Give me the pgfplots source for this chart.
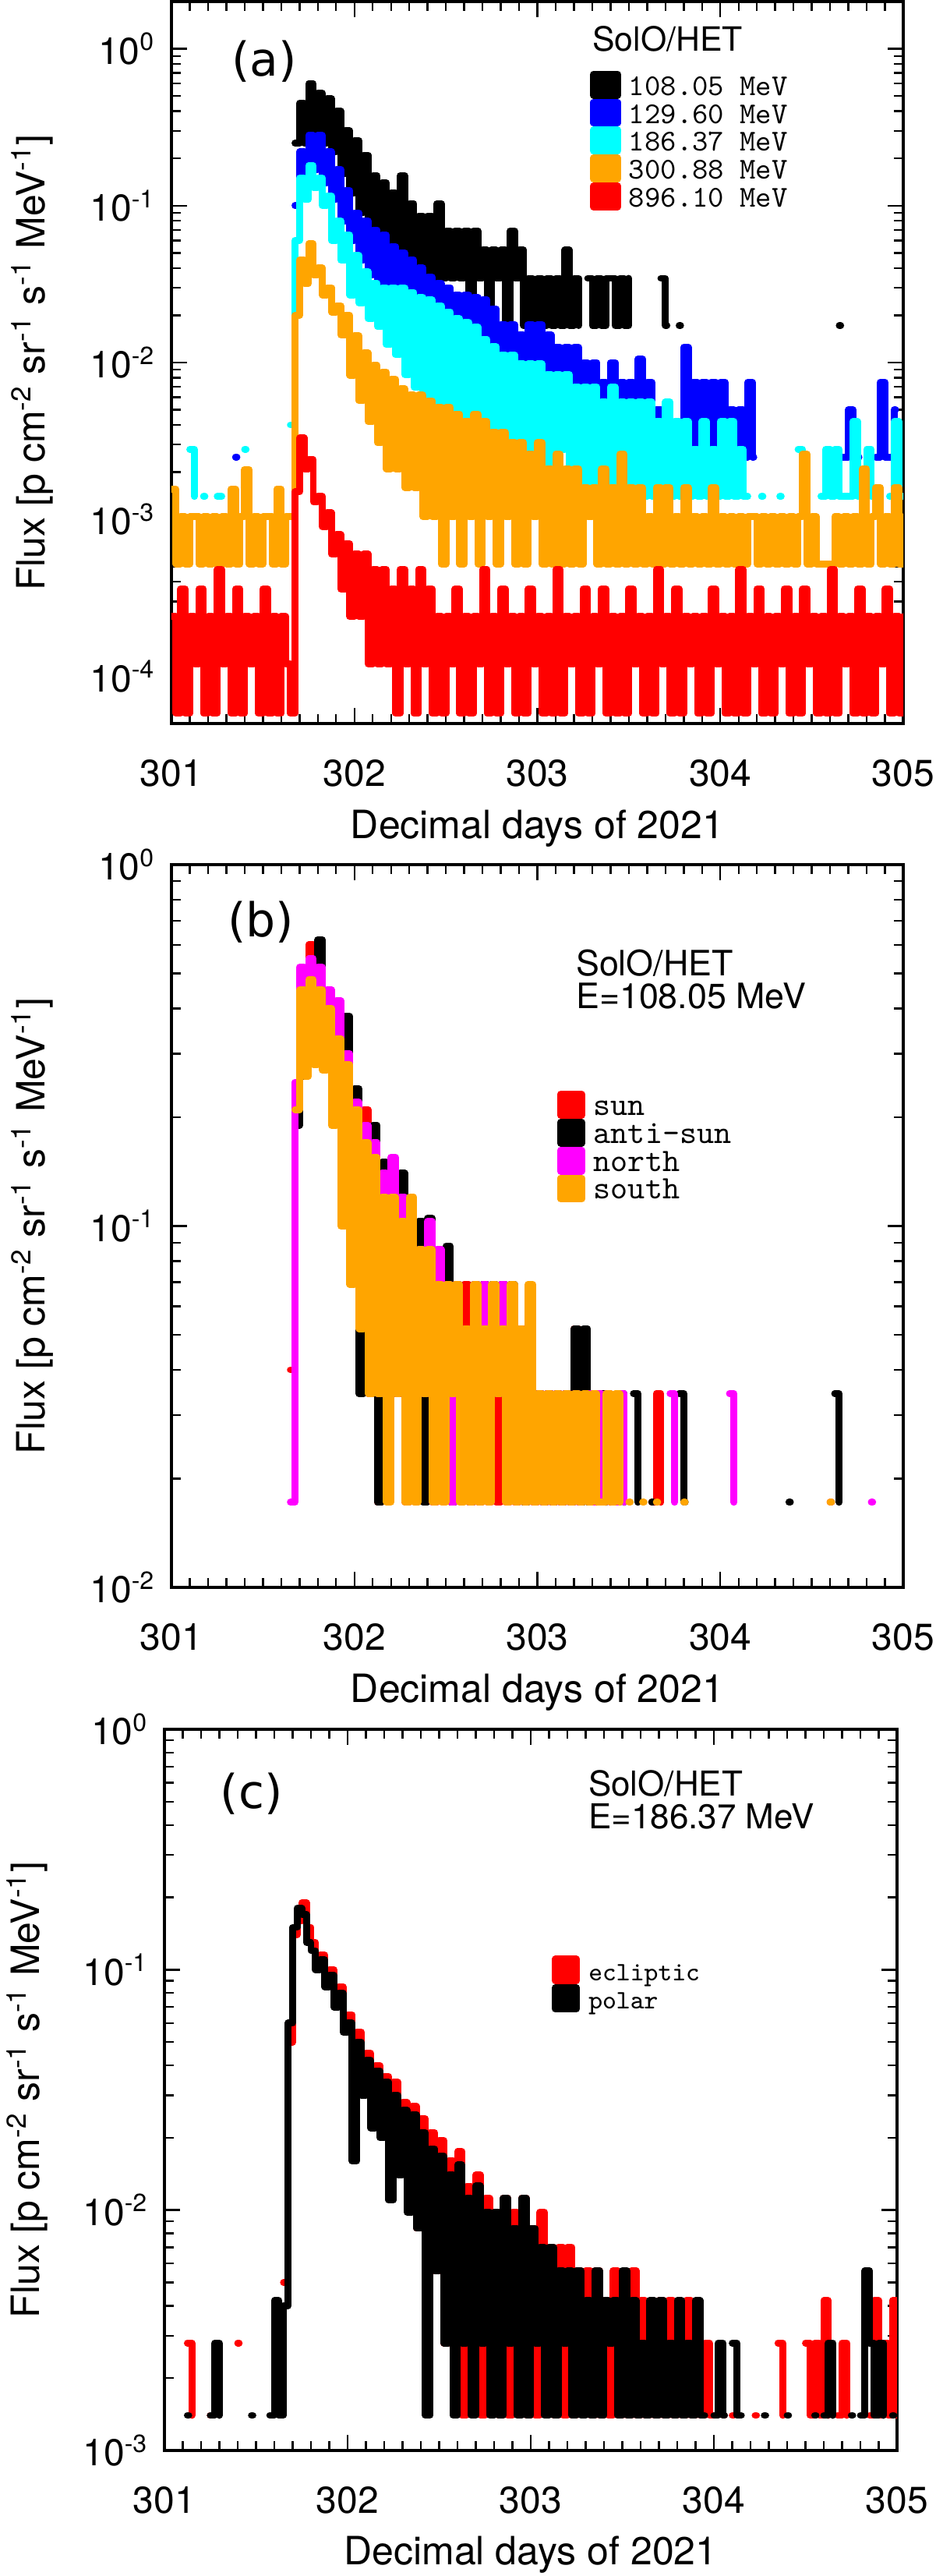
\documentclass[border=0pt]{standalone}
\usepackage{fontspec}
\setmainfont{TeX Gyre Heros}
\newfontfamily\panelfont{DejaVu Sans}
\usepackage{pgfplots}
\usepackage{pgfplotstable}
\pgfplotsset{compat=1.18}

\definecolor{idlblue}{RGB}{0,0,255}
\definecolor{idlcyan}{RGB}{0,255,255}
\definecolor{idlorange}{RGB}{255,165,0}
\definecolor{idlred}{RGB}{255,0,0}
\definecolor{idlmag}{RGB}{255,0,255}

% panel (a): x, 108.05, 129.60, 186.37, 300.88, 896.10 MeV
\pgfplotstableread{
x k b c o r
301.000 nan nan nan 1.56e-3 2.4e-4
301.025 nan nan nan 5.2e-4 5.8e-5
301.050 nan nan nan 1.04e-3 3.6e-4
301.075 nan nan nan 5.2e-4 5.8e-5
301.100 nan nan 2.8e-3 1.04e-3 2.4e-4
301.125 nan nan 1.4e-3 1.04e-3 1.2e-4
301.150 nan nan nan 5.2e-4 3.6e-4
301.175 nan nan 1.4e-3 1.04e-3 5.8e-5
301.183 nan nan 1.4e-3 1.04e-3 5.8e-5
301.200 nan nan nan 5.2e-4 2.4e-4
301.225 nan nan nan 1.04e-3 5.8e-5
301.250 nan nan 1.4e-3 5.2e-4 4.8e-4
301.275 nan nan 1.4e-3 1.04e-3 1.2e-4
301.300 nan nan nan 5.2e-4 2.4e-4
301.325 nan nan nan 1.56e-3 5.8e-5
301.350 nan 2.5e-3 nan 5.2e-4 3.6e-4
301.358 nan 2.5e-3 nan 5.2e-4 3.6e-4
301.375 nan nan nan 1.04e-3 5.8e-5
301.400 nan nan 2.8e-3 2.08e-3 2.4e-4
301.408 nan nan 2.8e-3 2.08e-3 2.4e-4
301.425 nan nan nan 5.2e-4 1.2e-4
301.450 nan nan nan 1.04e-3 2.4e-4
301.475 nan nan nan 5.2e-4 5.8e-5
301.500 nan nan nan 1.04e-3 3.6e-4
301.525 nan nan nan 1.04e-3 5.8e-5
301.550 nan nan nan 5.2e-4 2.4e-4
301.575 nan nan nan 1.56e-3 5.8e-5
301.600 nan nan nan 5.2e-4 2.4e-4
301.625 nan nan nan 1.04e-3 1.2e-4
301.650 nan nan 4e-3 1.04e-3 5.8e-5
301.675 0.25 0.10 0.06 0.02 1.5e-3
301.700 0.45 0.22 0.15 0.045 3.3e-3
301.725 0.25 0.15 0.11 0.032 2.1e-3
301.750 0.60 0.28 0.18 0.057 2.4e-3
301.775 0.28 0.17 0.13 0.036 1.3e-3
301.800 0.52 0.28 0.15 0.040 1.4e-3
301.825 0.25 0.14 0.10 0.027 9e-4
301.850 0.48 0.22 0.115 0.030 1.1e-3
301.875 0.22 0.11 0.06 0.021 6e-4
301.900 0.40 0.17 0.08 0.023 8e-4
301.925 0.16 0.08 0.045 0.015 3.6e-4
301.950 0.30 0.125 0.065 0.020 7e-4
301.975 0.12 0.06 0.027 0.0083 2.4e-4
302.000 0.26 0.09 0.048 0.0148 6e-4
302.025 0.09 0.045 0.024 0.0057 2.4e-4
302.050 0.21 0.08 0.038 0.0115 6e-4
302.075 0.075 0.036 0.019 0.0042 1.2e-4
302.100 0.155 0.07 0.032 0.0096 4.8e-4
302.125 0.065 0.03 0.017 0.0031 1.2e-4
302.150 0.14 0.065 0.030 0.0087 4.8e-4
302.175 0.055 0.028 0.013 0.0021 1.2e-4
302.200 0.12 0.055 0.030 0.0078 3.6e-4
302.225 0.05 0.028 0.0112 0.0021 5.8e-5
302.250 0.155 0.05 0.030 0.0068 4.8e-4
302.275 0.045 0.028 0.0084 0.0016 1.2e-4
302.300 0.103 0.045 0.028 0.0062 3.6e-4
302.325 0.04 0.026 0.007 0.0016 5.8e-5
302.350 0.086 0.04 0.026 0.0062 4.8e-4
302.375 0.0344 0.024 0.0056 0.00104 1.2e-4
302.400 0.086 0.035 0.025 0.0057 3.6e-4
302.425 0.0344 0.022 0.0056 0.00104 5.8e-5
302.450 0.103 0.032 0.023 0.0052 2.4e-4
302.475 0.0344 0.02 0.0042 5.2e-4 5.8e-5
302.500 0.069 0.03 0.021 0.0052 2.4e-4
302.525 0.0344 0.018 0.0042 1.04e-3 1.2e-4
302.550 0.069 0.027 0.019 0.0047 3.6e-4
302.575 0.0344 0.017 0.0042 5.2e-4 5.8e-5
302.600 0.069 0.027 0.018 0.0042 2.4e-4
302.625 0.0172 0.015 0.0028 1.04e-3 5.8e-5
302.650 0.069 0.026 0.0168 0.0047 2.4e-4
302.675 0.0344 0.0125 0.0028 5.2e-4 1.2e-4
302.700 0.052 0.025 0.014 0.0042 4.8e-4
302.725 0.0172 0.0125 0.0014 1.04e-3 5.8e-5
302.750 0.052 0.022 0.0126 0.0036 2.4e-4
302.775 0.0344 0.01 0.0028 5.2e-4 5.8e-5
302.800 0.052 0.0175 0.0112 0.0036 3.6e-4
302.825 0.0172 0.01 0.0014 1.04e-3 1.2e-4
302.850 0.069 0.0175 0.0112 0.0031 2.4e-4
302.875 0.0344 0.0075 0.0028 5.2e-4 5.8e-5
302.900 0.052 0.015 0.0098 0.0031 2.4e-4
302.925 0.0172 0.005 0.0014 5.2e-4 5.8e-5
302.950 0.0344 0.0175 0.0098 0.0026 3.6e-4
302.975 0.0172 0.0075 0.0014 1.04e-3 1.2e-4
303.000 0.0344 0.0175 0.0098 0.0031 2.4e-4
303.025 0.0172 0.005 0.0014 5.2e-4 5.8e-5
303.050 0.0344 0.015 0.0084 0.0021 2.4e-4
303.075 0.0172 0.0075 0.0014 5.2e-4 5.8e-5
303.100 0.0344 0.0125 0.0084 0.0026 4.8e-4
303.125 0.0172 0.005 0.0028 5.2e-4 5.8e-5
303.150 0.052 0.0125 0.0084 0.0021 2.4e-4
303.175 0.0172 0.005 0.0014 5.2e-4 1.2e-4
303.200 0.0344 0.0125 0.0070 0.0021 2.4e-4
303.225 0.0172 0.005 0.0014 5.2e-4 5.8e-5
303.250 nan 0.01 0.0070 0.0016 3.6e-4
303.275 0.0344 0.0025 0.0014 1.04e-3 5.8e-5
303.300 0.0172 0.01 0.0070 0.0016 2.4e-4
303.325 0.0344 0.0025 0.0014 5.2e-4 1.2e-4
303.350 0.0172 0.0075 0.0056 0.0021 3.6e-4
303.375 0.0344 0.005 0.0014 5.2e-4 5.8e-5
303.400 0.0344 0.01 0.0070 0.0016 2.4e-4
303.425 0.0172 0.0025 0.0014 5.2e-4 5.8e-5
303.450 0.0344 0.0075 0.0056 0.0026 2.4e-4
303.475 0.0172 0.0025 0.0014 5.2e-4 5.8e-5
303.500 0.0344 0.0075 0.0056 0.0016 3.6e-4
303.525 nan 0.005 0.0014 5.2e-4 1.2e-4
303.550 nan 0.0105 0.0056 0.0016 2.4e-4
303.575 nan 0.0025 0.0014 5.2e-4 5.8e-5
303.600 nan 0.0075 0.0056 1.04e-3 2.4e-4
303.625 nan 0.0025 0.0014 5.2e-4 5.8e-5
303.650 nan 0.005 0.0042 0.0016 4.8e-4
303.675 0.0344 0.0025 0.0014 5.2e-4 1.2e-4
303.700 0.0172 nan 0.0056 0.0016 2.4e-4
303.708 0.0172 nan 0.0056 0.0016 2.4e-4
303.725 nan nan 0.0014 5.2e-4 5.8e-5
303.750 nan nan 0.0042 1.04e-3 3.6e-4
303.775 0.0172 0.0025 0.0014 5.2e-4 5.8e-5
303.783 0.0172 0.0025 0.0014 5.2e-4 5.8e-5
303.800 nan 0.0125 0.0042 0.0016 2.4e-4
303.825 nan 0.0025 0.0014 5.2e-4 1.2e-4
303.850 nan 0.0075 0.0028 1.04e-3 2.4e-4
303.875 nan 0.0025 0.0014 5.2e-4 5.8e-5
303.900 nan 0.0075 0.0042 1.04e-3 2.4e-4
303.925 nan 0.0025 0.0014 5.2e-4 5.8e-5
303.950 nan 0.0075 0.0028 0.0016 3.6e-4
303.975 nan 0.0025 0.0014 5.2e-4 1.2e-4
304.000 nan 0.0075 0.0042 1.04e-3 2.4e-4
304.025 nan 0.0025 0.0014 5.2e-4 5.8e-5
304.050 nan 0.005 0.0042 1.04e-3 2.4e-4
304.075 nan 0.0025 0.0014 5.2e-4 5.8e-5
304.100 nan 0.005 0.0028 1.04e-3 4.8e-4
304.125 nan 0.0025 0.0014 5.2e-4 5.8e-5
304.150 nan 0.0075 0.0014 1.04e-3 2.4e-4
304.175 nan 0.0025 nan 1.04e-3 1.2e-4
304.183 nan 0.0025 nan 1.04e-3 1.2e-4
304.200 nan nan nan 5.2e-4 3.6e-4
304.225 nan nan 0.0014 1.04e-3 5.8e-5
304.233 nan nan 0.0014 1.04e-3 5.8e-5
304.250 nan nan nan 5.2e-4 2.4e-4
304.275 nan nan nan 1.04e-3 5.8e-5
304.300 nan nan nan 5.2e-4 2.4e-4
304.325 nan nan 0.0014 1.04e-3 1.2e-4
304.333 nan nan 0.0014 1.04e-3 1.2e-4
304.350 nan nan nan 5.2e-4 3.6e-4
304.375 nan nan nan 1.04e-3 5.8e-5
304.400 nan nan nan 5.2e-4 2.4e-4
304.425 nan nan 0.0028 1.04e-3 5.8e-5
304.450 nan nan 0.0014 0.0026 3.6e-4
304.458 nan nan 0.0014 0.0026 3.6e-4
304.475 nan nan nan 5.2e-4 1.2e-4
304.500 nan nan nan 1.04e-3 2.4e-4
304.525 nan nan nan 5.2e-4 5.8e-5
304.550 nan nan 0.0014 5.2e-4 2.4e-4
304.575 nan nan 0.0028 5.2e-4 5.8e-5
304.600 nan nan 0.0014 5.2e-4 4.8e-4
304.625 nan 0.0025 0.0028 1.04e-3 5.8e-5
304.650 0.0172 0.0025 0.0014 5.2e-4 2.4e-4
304.658 0.0172 0.0025 0.0014 5.2e-4 2.4e-4
304.675 nan 0.0025 0.0014 1.04e-3 1.2e-4
304.700 nan 0.005 0.0014 5.2e-4 2.4e-4
304.725 nan 0.0025 0.0042 1.04e-3 5.8e-5
304.750 nan 0.0025 0.0014 5.2e-4 3.6e-4
304.758 nan 0.0025 0.0014 5.2e-4 3.6e-4
304.775 nan nan 0.0014 0.0021 5.8e-5
304.800 nan nan 0.0028 5.2e-4 2.4e-4
304.825 nan nan 0.0014 1.04e-3 5.8e-5
304.850 nan 0.0025 0.0014 0.0016 2.4e-4
304.858 nan 0.0025 0.0014 0.0016 2.4e-4
304.875 nan 0.0075 nan 5.2e-4 1.2e-4
304.900 nan 0.0025 nan 1.04e-3 3.6e-4
304.925 nan 0.0025 0.0014 5.2e-4 5.8e-5
304.950 nan 0.005 0.0042 0.0016 2.4e-4
304.958 nan 0.005 0.0042 0.0016 2.4e-4
304.975 nan nan 0.0014 5.2e-4 5.8e-5
305.000 nan nan 0.0014 1.04e-3 2.4e-4
}\tabA

% panel (b): 108.05 MeV by sector: sun, anti-sun, north, south
\pgfplotstableread{
x r k m o
301.650 0.04 nan 0.0172 nan
301.675 0.20 0.19 0.25 0.21
301.700 0.45 0.26 0.52 0.45
301.725 0.35 0.45 0.40 0.26
301.750 0.60 0.52 0.55 0.48
301.775 0.33 0.40 0.35 0.28
301.800 0.50 0.62 0.52 0.45
301.825 0.30 0.35 0.30 0.27
301.850 0.42 0.40 0.45 0.40
301.875 0.20 0.25 0.22 0.19
301.900 0.35 0.33 0.42 0.33
301.925 0.12 0.17 0.14 0.10
301.950 0.30 0.38 0.30 0.28
301.975 0.086 0.10 0.086 0.069
302.000 0.21 0.24 0.22 0.21
302.025 0.052 0.0344 0.069 0.052
302.050 0.21 0.19 0.19 0.17
302.075 0.0344 0.052 0.052 0.0344
302.100 0.17 0.19 0.17 0.155
302.125 0.0172 0.0172 0.0344 0.0344
302.150 0.14 0.15 0.14 0.12
302.175 0.0344 0.052 0.0344 0.0172
302.200 0.12 0.12 0.155 0.12
302.225 0.0344 0.0344 0.0344 0.0344
302.250 0.103 0.14 0.12 0.103
302.275 0.0172 0.0344 0.0344 0.0172
302.300 0.103 0.086 0.103 0.12
302.325 0.0344 0.0344 0.0344 0.0172
302.350 0.086 0.103 0.086 0.086
302.375 0.0344 0.0172 0.0344 0.0344
302.400 0.086 0.105 0.103 0.086
302.425 0.0172 0.0344 0.0172 0.0172
302.450 0.069 0.069 0.086 0.069
302.475 0.0344 0.0344 0.0344 0.0172
302.500 0.069 0.088 0.069 0.069
302.525 0.0172 0.0172 0.0172 0.0344
302.550 0.052 0.069 0.069 0.069
302.575 0.0344 0.0344 0.0344 0.0172
302.600 0.069 0.052 0.052 0.052
302.625 0.0172 0.0172 0.0172 0.0172
302.650 0.052 0.069 0.069 0.069
302.675 0.0172 0.052 0.0344 0.0172
302.700 0.069 0.069 0.069 0.052
302.725 0.0344 0.052 0.0172 0.0172
302.750 0.052 0.069 0.052 0.069
302.775 0.0172 0.0344 0.0344 0.0344
302.800 0.052 0.069 0.069 0.052
302.825 0.0344 0.052 0.0172 0.0172
302.850 0.052 0.069 0.052 0.069
302.875 0.0172 0.0344 0.0172 0.0172
302.900 0.052 0.052 0.052 0.052
302.925 0.0172 0.0172 0.0344 0.0172
302.950 0.0344 0.052 0.052 0.069
302.975 0.0172 0.0344 0.0172 0.0172
303.000 0.0344 0.0344 0.0344 0.0344
303.025 0.0172 0.0172 0.0172 0.0172
303.050 0.0344 0.0344 0.0344 0.0344
303.075 0.0172 0.0172 0.0172 0.0172
303.100 0.0344 0.0344 0.0344 0.0344
303.125 0.0172 0.0172 0.0172 0.0172
303.150 0.0344 0.0344 0.0344 0.0344
303.175 0.0172 0.0172 0.0172 0.0172
303.200 0.052 0.052 0.0344 0.0344
303.225 0.0172 0.0172 0.0172 0.0172
303.250 0.0344 0.052 nan 0.0344
303.275 0.0172 0.0172 0.0344 0.0172
303.300 0.0344 0.0344 0.0172 0.0344
303.325 0.0172 0.0172 0.0344 0.0172
303.350 nan 0.0344 0.0172 0.0172
303.375 0.0344 0.0172 0.0344 0.0344
303.400 0.0172 nan nan 0.0172
303.425 nan 0.0172 0.0172 0.0344
303.450 nan 0.0344 0.0344 0.0172
303.475 nan 0.0172 0.0172 nan
303.500 nan nan nan 0.0172
303.508 nan nan nan 0.0172
303.525 nan 0.0344 nan nan
303.550 nan 0.0172 nan nan
303.575 nan nan nan 0.0172
303.583 nan nan nan 0.0172
303.600 nan nan nan nan
303.625 0.0172 0.0172 nan nan
303.633 0.0172 0.0172 nan nan
303.650 0.0344 nan nan 0.0172
303.658 0.0344 nan nan 0.0172
303.675 0.0172 nan nan nan
303.700 nan nan nan nan
303.725 nan nan 0.0344 nan
303.750 nan nan 0.0172 nan
303.775 nan 0.0344 nan nan
303.800 nan 0.0172 nan 0.0172
303.808 nan 0.0172 nan 0.0172
303.825 nan nan nan nan
304.050 nan nan 0.0344 nan
304.075 nan nan 0.0172 nan
304.100 nan nan nan nan
304.375 nan 0.0172 nan nan
304.383 nan 0.0172 nan nan
304.400 nan nan nan nan
304.600 0.0172 nan nan 0.0172
304.608 0.0172 nan nan 0.0172
304.625 nan 0.0344 nan nan
304.650 nan 0.0172 nan nan
304.675 nan nan nan nan
304.825 nan nan 0.0172 nan
304.833 nan nan 0.0172 nan
}\tabB

% panel (c): 186.37 MeV, ecliptic and polar
\pgfplotstableread{
x r k
301.125 2.8e-3 1.4e-3
301.133 2.8e-3 1.4e-3
301.150 1.4e-3 nan
301.175 nan nan
301.250 1.4e-3 1.4e-3
301.258 1.4e-3 1.4e-3
301.275 nan 2.8e-3
301.300 nan 1.4e-3
301.325 nan nan
301.400 2.8e-3 nan
301.408 2.8e-3 nan
301.425 nan nan
301.475 nan 1.4e-3
301.483 nan 1.4e-3
301.500 nan nan
301.575 nan 1.4e-3
301.600 nan 4.2e-3
301.625 nan 1.4e-3
301.650 5e-3 4e-3
301.675 0.05 0.06
301.700 0.14 0.15
301.725 0.16 0.18
301.750 0.19 0.17
301.775 0.15 0.13
301.800 0.13 0.12
301.825 0.11 0.10
301.850 0.115 0.11
301.875 0.09 0.085
301.900 0.10 0.095
301.925 0.075 0.07
301.950 0.085 0.08
301.975 0.06 0.055
302.000 0.065 0.06
302.025 0.045 0.016
302.050 0.055 0.05
302.075 0.036 0.03
302.100 0.045 0.042
302.125 0.03 0.022
302.150 0.04 0.038
302.175 0.025 0.02
302.200 0.036 0.034
302.225 0.02 0.011
302.250 0.034 0.03
302.275 0.016 0.014
302.300 0.028 0.026
302.325 0.012 0.0098
302.350 0.027 0.025
302.375 0.0084 0.0084
302.400 0.024 0.021
302.425 0.0070 0.0014
302.450 0.021 0.018
302.475 0.0056 0.0056
302.500 0.0195 0.0168
302.525 0.0028 0.0028
302.550 0.016 0.014
302.575 0.0042 0.0014
302.600 0.0175 0.0154
302.625 0.0014 0.0028
302.650 0.0125 0.0112
302.675 0.0028 0.0014
302.700 0.014 0.0126
302.725 0.0014 0.0028
302.750 0.0112 0.0098
302.775 0.0028 0.0014
302.800 0.0098 0.0098
302.825 0.0014 0.0014
302.850 0.0112 0.0112
302.875 0.0014 0.0028
302.900 0.0098 0.0084
302.925 0.0028 0.0014
302.950 0.0112 0.0112
302.975 0.0014 0.0014
303.000 0.0084 0.0084
303.025 0.0014 0.0028
303.050 0.0098 0.0070
303.075 0.0028 0.0014
303.100 0.0070 0.0070
303.125 0.0014 0.0014
303.150 0.0070 0.0056
303.175 0.0014 0.0028
303.200 0.0070 0.0056
303.225 0.0014 0.0014
303.250 0.0056 0.0056
303.275 0.0028 0.0014
303.300 0.0056 0.0042
303.325 0.0014 0.0014
303.350 0.0056 0.0056
303.375 0.0014 0.0014
303.400 0.0042 0.0042
303.425 0.0014 0.0028
303.450 0.0056 0.0042
303.475 0.0014 0.0014
303.500 0.0042 0.0056
303.525 0.0014 0.0014
303.550 0.0056 0.0042
303.575 0.0014 0.0014
303.600 0.0042 0.0028
303.625 0.0014 0.0014
303.650 0.0028 0.0042
303.675 0.0014 0.0014
303.700 0.0042 0.0042
303.725 0.0014 0.0014
303.750 0.0042 0.0028
303.775 0.0014 0.0014
303.800 0.0028 0.0042
303.825 0.0014 0.0014
303.850 0.0042 0.0028
303.875 0.0014 0.0014
303.900 0.0028 0.0042
303.925 0.0014 0.0014
303.950 0.0028 0.0014
303.975 0.0014 nan
304.000 0.0014 0.0014
304.025 nan 0.0028
304.050 0.0014 0.0014
304.058 0.0014 0.0014
304.075 nan nan
304.100 0.0014 0.0028
304.108 0.0014 0.0028
304.125 nan 0.0014
304.150 nan 0.0014
304.175 nan nan
304.225 0.0014 nan
304.233 0.0014 nan
304.250 nan nan
304.275 nan 0.0014
304.283 nan 0.0014
304.300 nan nan
304.350 0.0028 nan
304.375 0.0014 nan
304.400 nan 0.0014
304.408 nan 0.0014
304.425 nan nan
304.500 0.0028 nan
304.525 0.0014 nan
304.550 0.0028 0.0014
304.558 0.0028 0.0014
304.575 0.0014 nan
304.600 0.0042 0.0014
304.625 0.0014 0.0028
304.650 nan 0.0014
304.675 0.0014 nan
304.700 0.0028 nan
304.725 0.0014 nan
304.750 nan 0.0014
304.758 nan 0.0014
304.775 nan nan
304.800 nan 0.0014
304.825 nan 0.0056
304.850 0.0014 0.0028
304.875 0.0042 0.0014
304.900 0.0014 0.0028
304.925 0.0028 0.0014
304.950 0.0014 nan
304.975 0.0042 0.0014
304.983 0.0042 0.0014
305.000 0.0014 nan
}\tabC

\pgfplotsset{
  trace/.style={const plot, color=#1, line width=2.2pt, line cap=round, line join=round, no marks},
}

\begin{document}
\begin{tikzpicture}
\useasboundingbox (0,0) rectangle (300pt,826pt);

% ---------------- (a)
\begin{axis}[ymode=log, scale only axis, width=234.75pt, height=231.5pt,
  at={(55pt,594pt)}, anchor=south west,
  xmin=301, xmax=305, ymin=5e-5, ymax=2,
  xtick={301,302,303,304,305}, xticklabels={301,302,303,304,305},
  minor x tick num=9,
  ytick={1e-4,1e-3,1e-2,1e-1,1},
  yticklabels={10\textsuperscript{-4},10\textsuperscript{-3},10\textsuperscript{-2},10\textsuperscript{-1},10\textsuperscript{0}},
  minor ytick={6e-5,7e-5,8e-5,9e-5,2e-4,3e-4,4e-4,5e-4,6e-4,7e-4,8e-4,9e-4,2e-3,3e-3,4e-3,5e-3,6e-3,7e-3,8e-3,9e-3,0.02,0.03,0.04,0.05,0.06,0.07,0.08,0.09,0.2,0.3,0.4,0.5,0.6,0.7,0.8,0.9,2},
  tick align=inside, major tick length=5pt, minor tick length=3pt,
  tick style={black, line width=0.6pt}, axis line style={line width=0.8pt},
  tick label style={font=\fontsize{12}{14}\selectfont},
  xticklabel style={anchor=center, yshift=-16pt},
  yticklabel style={anchor=east, inner sep=0pt, xshift=-5pt},
  xlabel={Decimal days of 2021},
  ylabel={Flux [p cm\textsuperscript{-2} sr\textsuperscript{-1} s\textsuperscript{-1} MeV\textsuperscript{-1}]},
  xlabel style={at={(axis description cs:0.5,-0.145)}, anchor=center, font=\fontsize{12.5}{14}\selectfont},
  ylabel style={at={(axis description cs:-0.19,0.5)}, anchor=center, font=\fontsize{12.5}{14}\selectfont},
  unbounded coords=jump,
  legend cell align=left,
  legend style={draw=none, fill=none, inner sep=0pt, outer sep=0pt, row sep=0pt, column sep=2.5pt,
    at={(0.572,0.904)}, anchor=north west, font=\ttfamily\fontsize{9.7}{10}\selectfont,
    nodes={inner sep=0pt, text height=6.75pt, text depth=0pt}},
  legend image code/.code={\fill[#1] (0pt,-3.375pt) rectangle (7.75pt,3.375pt);},
]
\addplot[trace=black] table[x=x,y=k]{\tabA};
\addlegendentry{108.05 MeV}
\addplot[trace=idlblue] table[x=x,y=b]{\tabA};
\addlegendentry{129.60 MeV}
\addplot[trace=idlcyan] table[x=x,y=c]{\tabA};
\addlegendentry{186.37 MeV}
\addplot[trace=idlorange] table[x=x,y=o]{\tabA};
\addlegendentry{300.88 MeV}
\addplot[trace=idlred] table[x=x,y=r]{\tabA};
\addlegendentry{896.10 MeV}
\node[font=\panelfont\fontsize{15}{15}\selectfont] at (axis description cs:0.127,0.917) {(a)};
\node[font=\fontsize{10.7}{12}\selectfont] at (axis description cs:0.678,0.948) {SolO/HET};
\end{axis}

% ---------------- (b)
\begin{axis}[ymode=log, scale only axis, width=234.75pt, height=231.75pt,
  at={(55pt,317pt)}, anchor=south west,
  xmin=301, xmax=305, ymin=0.01, ymax=1,
  xtick={301,302,303,304,305}, xticklabels={301,302,303,304,305},
  minor x tick num=9,
  ytick={1e-2,1e-1,1},
  yticklabels={10\textsuperscript{-2},10\textsuperscript{-1},10\textsuperscript{0}},
  minor ytick={0.02,0.03,0.04,0.05,0.06,0.07,0.08,0.09,0.2,0.3,0.4,0.5,0.6,0.7,0.8,0.9},
  tick align=inside, major tick length=5pt, minor tick length=3pt,
  tick style={black, line width=0.6pt}, axis line style={line width=0.8pt},
  tick label style={font=\fontsize{12}{14}\selectfont},
  xticklabel style={anchor=center, yshift=-16pt},
  yticklabel style={anchor=east, inner sep=0pt, xshift=-5pt},
  xlabel={Decimal days of 2021},
  ylabel={Flux [p cm\textsuperscript{-2} sr\textsuperscript{-1} s\textsuperscript{-1} MeV\textsuperscript{-1}]},
  xlabel style={at={(axis description cs:0.5,-0.145)}, anchor=center, font=\fontsize{12.5}{14}\selectfont},
  ylabel style={at={(axis description cs:-0.19,0.5)}, anchor=center, font=\fontsize{12.5}{14}\selectfont},
  unbounded coords=jump,
  legend cell align=left,
  legend style={draw=none, fill=none, inner sep=0pt, outer sep=0pt, row sep=0pt, column sep=2.8pt,
    at={(0.527,0.687)}, anchor=north west, font=\ttfamily\fontsize{10.5}{11}\selectfont,
    nodes={inner sep=0pt, text height=6.75pt, text depth=0pt}},
  legend image code/.code={\fill[#1] (0pt,-3.375pt) rectangle (6.75pt,3.375pt);},
]
\addplot[trace=idlred] table[x=x,y=r]{\tabB};
\addlegendentry{sun}
\addplot[trace=black] table[x=x,y=k]{\tabB};
\addlegendentry{anti-sun}
\addplot[trace=idlmag] table[x=x,y=m]{\tabB};
\addlegendentry{north}
\addplot[trace=idlorange] table[x=x,y=o]{\tabB};
\addlegendentry{south}
\node[font=\panelfont\fontsize{15}{15}\selectfont] at (axis description cs:0.122,0.920) {(b)};
\node[anchor=north west, align=left, inner sep=0pt, font=\fontsize{11.2}{10.5}\selectfont]
  at (axis description cs:0.552,0.8835) {SolO/HET\\E=108.05 MeV};
\end{axis}

% ---------------- (c)
\begin{axis}[ymode=log, scale only axis, width=235pt, height=231.25pt,
  at={(52.75pt,40.25pt)}, anchor=south west,
  xmin=301, xmax=305, ymin=1e-3, ymax=1,
  xtick={301,302,303,304,305}, xticklabels={301,302,303,304,305},
  minor x tick num=9,
  ytick={1e-3,1e-2,1e-1,1},
  yticklabels={10\textsuperscript{-3},10\textsuperscript{-2},10\textsuperscript{-1},10\textsuperscript{0}},
  minor ytick={2e-3,3e-3,4e-3,5e-3,6e-3,7e-3,8e-3,9e-3,0.02,0.03,0.04,0.05,0.06,0.07,0.08,0.09,0.2,0.3,0.4,0.5,0.6,0.7,0.8,0.9},
  tick align=inside, major tick length=5pt, minor tick length=3pt,
  tick style={black, line width=0.6pt}, axis line style={line width=0.8pt},
  tick label style={font=\fontsize{12}{14}\selectfont},
  xticklabel style={anchor=center, yshift=-16pt},
  yticklabel style={anchor=east, inner sep=0pt, xshift=-5pt},
  xlabel={Decimal days of 2021},
  ylabel={Flux [p cm\textsuperscript{-2} sr\textsuperscript{-1} s\textsuperscript{-1} MeV\textsuperscript{-1}]},
  xlabel style={at={(axis description cs:0.5,-0.145)}, anchor=center, font=\fontsize{12.5}{14}\selectfont},
  ylabel style={at={(axis description cs:-0.187,0.5)}, anchor=center, font=\fontsize{12.5}{14}\selectfont},
  unbounded coords=jump,
  legend cell align=left,
  legend style={draw=none, fill=none, inner sep=0pt, outer sep=0pt, row sep=0pt, column sep=2.8pt,
    at={(0.529,0.686)}, anchor=north west, font=\ttfamily\fontsize{8.5}{9}\selectfont,
    nodes={inner sep=0pt, text height=6.9pt, text depth=0pt}},
  legend image code/.code={\fill[#1] (0pt,-3.45pt) rectangle (6.75pt,3.45pt);},
]
\addplot[trace=idlred] table[x=x,y=r]{\tabC};
\addlegendentry{ecliptic}
\addplot[trace=black] table[x=x,y=k]{\tabC};
\addlegendentry{polar}
\node[font=\panelfont\fontsize{15}{15}\selectfont] at (axis description cs:0.119,0.911) {(c)};
\node[anchor=north west, align=left, inner sep=0pt, font=\fontsize{11}{10.5}\selectfont]
  at (axis description cs:0.578,0.944) {SolO/HET\\E=186.37 MeV};
\end{axis}
\end{tikzpicture}
\end{document}
